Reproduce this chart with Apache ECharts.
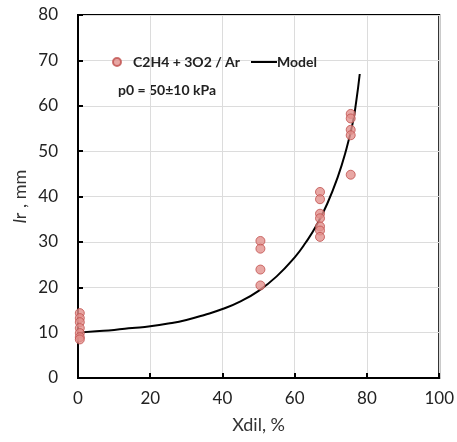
<!DOCTYPE html>
<html>
<head>
<meta charset="utf-8">
<script src="https://cdn.jsdelivr.net/npm/echarts@6/dist/echarts.min.js"></script>
<style>
  html, body { margin: 0; padding: 0; background: #fff; }
  #chart { width: 457px; height: 442px; }
</style>
</head>
<body>
<div id="chart"></div>
<script>
// measured points, [Xdil %, lr mm]
var expData = [
    [0.5, 14.3], [0.5, 13.2], [0.5, 12.3], [0.5, 11.0], [0.5, 9.9], [0.5, 9.0], [0.5, 8.5],
    [50.5, 30.2], [50.5, 28.5], [50.5, 23.9], [50.5, 20.4],
    [67, 41.0], [67, 39.4], [67, 36.2], [67, 35.2], [67, 33.4], [67, 32.5], [67, 31.1],
    [75.5, 58.2], [75.5, 57.2], [75.5, 54.7], [75.5, 53.5], [75.5, 44.8]
];
// model curve
var modelX = [0, 5, 10, 15, 20, 25, 30, 35, 40, 45, 50, 55, 60, 63, 66, 69, 72, 74, 76, 77, 78];
var modelY = [10, 10.3, 10.6, 11, 11.4, 12, 12.8, 13.9, 15.2, 16.9, 19.2, 22.4, 26.6, 29.8, 33.6, 38.4, 44.5, 49.6, 56, 60.8, 67];
var xTicks = [0, 20, 40, 60, 80, 100];
var yTicks = [0, 10, 20, 30, 40, 50, 60, 70, 80];

var modelData = modelX.map(function (x, i) { return [x, modelY[i]]; });
var font = 'Lato';

var myChart = echarts.init(document.getElementById('chart'));
var option = {
    animation: false,
    textStyle: { fontFamily: font },
    grid: {
        left: 78, right: 16, top: 15, bottom: 64,
        show: true,
        borderColor: '#000',
        borderWidth: 2
    },
    legend: [{
        left: 107, top: 50,
        itemWidth: 8, itemHeight: 8, itemGap: 0,
        textStyle: { fontSize: 14, fontWeight: 'bold', color: '#222', fontFamily: font, padding: [0, 0, 0, 7] },
        data: [{ name: 'C2H4 + 3O2 / Ar', icon: 'circle' }]
    }, {
        left: 246, top: 50,
        itemWidth: 26, itemHeight: 2, itemGap: 0,
        textStyle: { fontSize: 14, fontWeight: 'bold', color: '#222', fontFamily: font, padding: [0, 0, 0, -5] },
        data: [{ name: 'Model', icon: 'rect' }]
    }],
    graphic: [{
        type: 'text',
        left: 118, top: 83,
        style: { text: 'p0 = 50±10 kPa', fontSize: 14, fontWeight: 'bold', fill: '#222', fontFamily: font }
    }],
    xAxis: {
        type: 'value',
        min: 0, max: 100, interval: 20,
        name: 'Xdil, %',
        nameLocation: 'middle',
        nameGap: 38,
        nameMoveOverlap: false,
        nameTextStyle: { fontSize: 18, color: '#333', fontFamily: font },
        axisLine: { show: true, lineStyle: { color: '#000', width: 2 } },
        axisTick: { show: true, inside: true, length: 5, lineStyle: { color: '#000', width: 2 } },
        axisLabel: { fontSize: 17, color: '#222', margin: 12, fontFamily: font },
        splitLine: { show: true, lineStyle: { color: '#dcdcdc', width: 1 } }
    },
    yAxis: {
        type: 'value',
        min: 0, max: 80, interval: 10,
        name: '{i|l}{n|r , mm}',
        nameLocation: 'middle',
        nameGap: 49,
        nameMoveOverlap: false,
        nameTextStyle: {
            rich: {
                i: { fontSize: 18, fontStyle: 'italic', color: '#333', fontFamily: font },
                n: { fontSize: 18, color: '#333', fontFamily: font }
            }
        },
        axisLine: { show: true, lineStyle: { color: '#000', width: 2 } },
        axisTick: { show: true, inside: true, length: 5, lineStyle: { color: '#000', width: 2 } },
        axisLabel: { fontSize: 17, color: '#222', margin: 20, fontFamily: font },
        splitLine: { show: true, lineStyle: { color: '#dcdcdc', width: 1 } }
    },
    series: [{
        name: 'Model',
        type: 'line',
        data: modelData,
        smooth: true,
        symbol: 'none',
        lineStyle: { color: '#000', width: 2 },
        itemStyle: { color: '#000' },
        z: 2
    }, {
        name: 'C2H4 + 3O2 / Ar',
        type: 'scatter',
        data: expData,
        symbol: 'circle',
        symbolSize: 9,
        itemStyle: { color: '#e2918d', borderColor: '#c0504d', borderWidth: 1 },
        z: 3
    }]
};
myChart.setOption(option, true);
</script>
</body>
</html>
